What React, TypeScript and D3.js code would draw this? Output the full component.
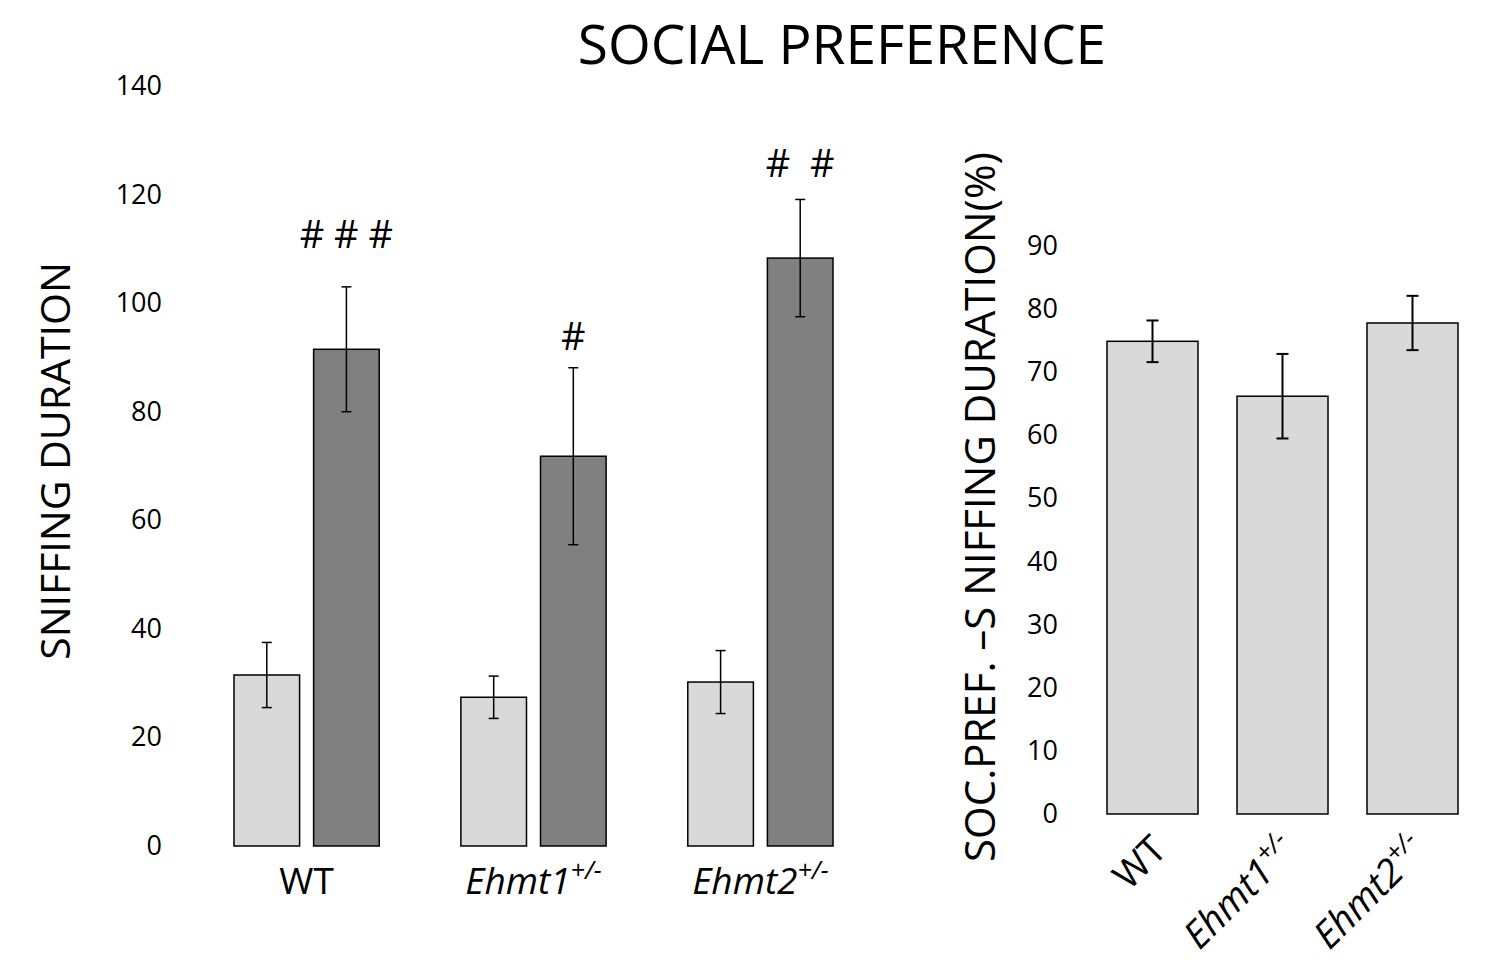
import React from "react";
import * as d3 from "d3";

// Sniffing duration per genotype: empty cage vs. social stimulus
const groups = ["WT", "Ehmt1", "Ehmt2"];
const conditions = ["empty", "social"];
const emptyMean = [31.5, 27.4, 30.2];
const emptySem = [6.0, 3.9, 5.8];
const socialMean = [91.5, 71.8, 108.3];
const socialSem = [11.5, 16.3, 10.8];
const significance = ["# # #", "#", "#  #"];
const significanceLevel = [110.2, 91.4, 123.2];
const leftTicks = [0, 20, 40, 60, 80, 100, 120, 140];

// Social preference index (%)
const prefMean = [74.9, 66.2, 77.8];
const prefSem = [3.3, 6.7, 4.3];
const rightTicks = [0, 10, 20, 30, 40, 50, 60, 70, 80, 90];

const FONT = "'Open Sans', 'Noto Sans', sans-serif";
const LIGHT = "#d9d9d9";
const DARK = "#808080";

function GenoLabel({ name, x, y, size, anchor, transform }: any) {
  if (name === "WT") {
    return (
      <text x={x} y={y} fontSize={size} textAnchor={anchor} transform={transform} fontFamily={FONT}>
        WT
      </text>
    );
  }
  return (
    <text x={x} y={y} fontSize={size} textAnchor={anchor} transform={transform} fontFamily={FONT}>
      <tspan fontStyle="italic">{name}</tspan>
      <tspan fontStyle="italic" fontSize={size * 0.68} dy={-size * 0.4}>
        +/-
      </tspan>
    </text>
  );
}

export default function App() {
  const W = 1495;
  const H = 963;

  // left panel scales
  const yL = d3.scaleLinear().domain([0, 140]).range([846, 86]);
  const xG = d3.scaleBand().domain(groups).range([234, 833]).paddingInner(0.36).paddingOuter(0);
  const xC = d3.scaleBand().domain(conditions).range([0, xG.bandwidth()]).paddingInner(0.176).paddingOuter(0);

  // right panel scales
  const yR = d3.scaleLinear().domain([0, 90]).range([814, 246]);
  const xR = d3.scaleBand().domain(groups).range([1107, 1458]).paddingInner(0.3).paddingOuter(0);

  const leftData = groups.flatMap((g, i) => [
    { g, c: "empty", m: emptyMean[i], s: emptySem[i], fill: LIGHT },
    { g, c: "social", m: socialMean[i], s: socialSem[i], fill: DARK },
  ]);

  return (
    <svg width={W} height={H} viewBox={`0 0 ${W} ${H}`} style={{ display: "block", position: "absolute", left: 0, top: 0, background: "#fff" }}>
      <rect width={W} height={H} fill="#fff" />
      <text x={842} y={64} fontSize={55} textAnchor="middle" fontFamily={FONT}>
        SOCIAL PREFERENCE
      </text>

      {/* left panel */}
      {leftTicks.map((t) => (
        <text key={t} x={162} y={yL(t) + 9} fontSize={27} textAnchor="end" fontFamily={FONT}>
          {t}
        </text>
      ))}
      <text transform={`translate(70,461) rotate(-90)`} fontSize={41} textAnchor="middle" fontFamily={FONT}>
        SNIFFING DURATION
      </text>
      {leftData.map((d, i) => {
        const x = (xG(d.g) as number) + (xC(d.c) as number);
        const bw = xC.bandwidth();
        const cx = x + bw / 2;
        return (
          <g key={i}>
            <rect x={x} y={yL(d.m)} width={bw} height={yL(0) - yL(d.m)} fill={d.fill} stroke="#000" strokeWidth={1.5} />
            <line x1={cx} x2={cx} y1={yL(d.m + d.s)} y2={yL(d.m - d.s)} stroke="#000" strokeWidth={1.5} />
            <line x1={cx - 5} x2={cx + 5} y1={yL(d.m + d.s)} y2={yL(d.m + d.s)} stroke="#000" strokeWidth={1.5} />
            <line x1={cx - 5} x2={cx + 5} y1={yL(d.m - d.s)} y2={yL(d.m - d.s)} stroke="#000" strokeWidth={1.5} />
          </g>
        );
      })}
      {groups.map((g, i) => {
        const cx = (xG(g) as number) + (xC("social") as number) + xC.bandwidth() / 2;
        return (
          <text key={g} x={cx} y={yL(significanceLevel[i])} fontSize={38} textAnchor="middle" fontFamily={FONT} style={{ whiteSpace: "pre" }}>
            {significance[i]}
          </text>
        );
      })}
      {groups.map((g) => (
        <GenoLabel key={g} name={g} x={(xG(g) as number) + xG.bandwidth() / 2} y={894} size={37} anchor="middle" />
      ))}

      {/* right panel */}
      {rightTicks.map((t) => (
        <text key={t} x={1058} y={yR(t) + 9} fontSize={27} textAnchor="end" fontFamily={FONT}>
          {t}
        </text>
      ))}
      <text transform={`translate(995,507) rotate(-90)`} fontSize={42} textAnchor="middle" fontFamily={FONT}>
        SOC.PREF. –S NIFFING DURATION(%)
      </text>
      {groups.map((g, i) => {
        const x = xR(g) as number;
        const bw = xR.bandwidth();
        const cx = x + bw / 2;
        const m = prefMean[i];
        const s = prefSem[i];
        return (
          <g key={g}>
            <rect x={x} y={yR(m)} width={bw} height={yR(0) - yR(m)} fill={LIGHT} stroke="#000" strokeWidth={1.5} />
            <line x1={cx} x2={cx} y1={yR(m + s)} y2={yR(m - s)} stroke="#000" strokeWidth={2} />
            <line x1={cx - 6} x2={cx + 6} y1={yR(m + s)} y2={yR(m + s)} stroke="#000" strokeWidth={2} />
            <line x1={cx - 6} x2={cx + 6} y1={yR(m - s)} y2={yR(m - s)} stroke="#000" strokeWidth={2} />
          </g>
        );
      })}
      {groups.map((g) => {
        const cx = (xR(g) as number) + xR.bandwidth() / 2 + 16;
        const ly = 852;
        return (
          <GenoLabel key={g} name={g} x={cx} y={ly} size={38} anchor="end" transform={`rotate(-45 ${cx} ${ly})`} />
        );
      })}
    </svg>
  );
}
